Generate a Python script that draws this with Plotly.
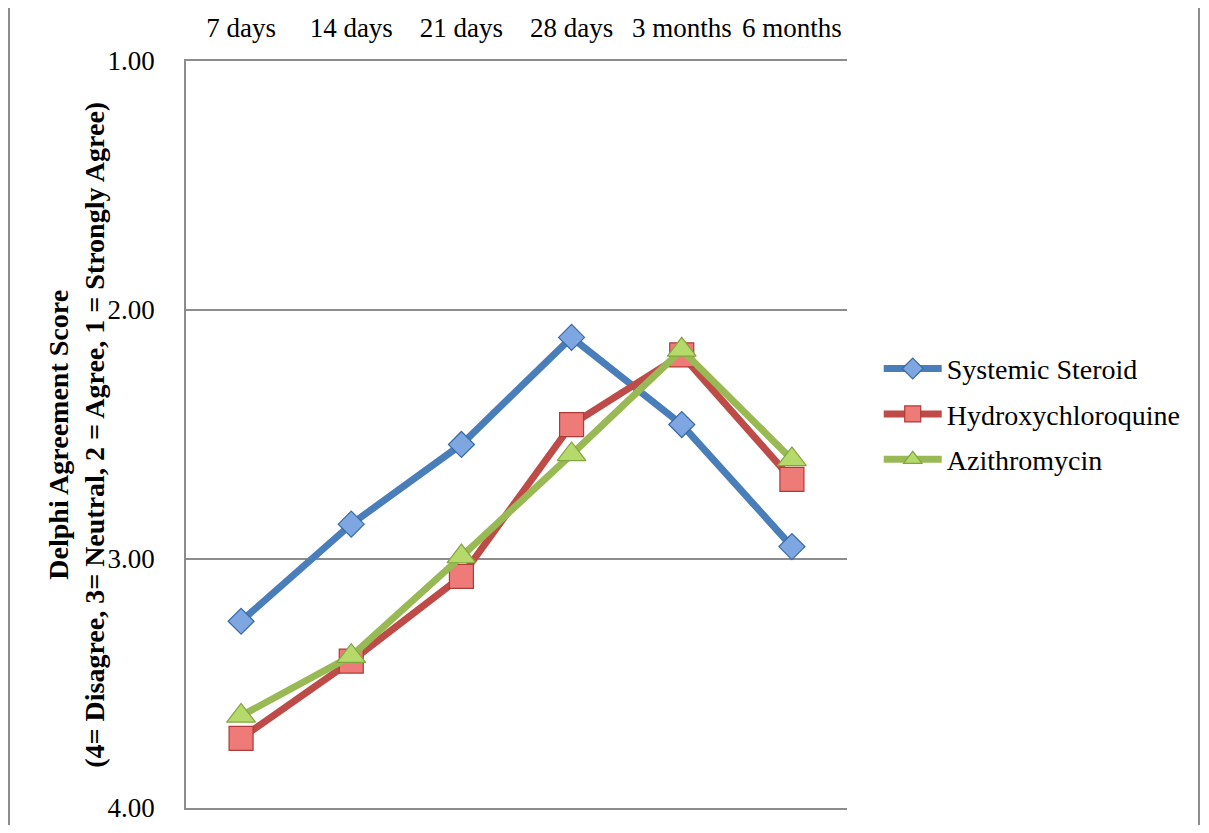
import plotly.graph_objects as go

categories = ["7 days", "14 days", "21 days", "28 days", "3 months", "6 months"]
steroid = [3.25, 2.86, 2.54, 2.11, 2.46, 2.95]
hcq = [3.72, 3.41, 3.07, 2.46, 2.18, 2.68]
azi = [3.63, 3.39, 2.99, 2.58, 2.16, 2.60]
y_ticks = [1, 2, 3, 4]
y_tick_labels = ["1.00", "2.00", "3.00", "4.00"]
y_title = "<b>Delphi Agreement Score<br>(4= Disagree, 3= Neutral, 2 = Agree, 1 = Strongly Agree)</b>"

FONT = "Liberation Serif"
GRID = "#8C8C8C"

series = [
    ("Systemic Steroid", steroid, "#4A7EBB", "#7EA6E0", "#3A6AA5", "diamond", 20),
    ("Hydroxychloroquine", hcq, "#BE4B48", "#EE7B78", "#B03A37", "square", 24),
    ("Azithromycin", azi, "#98B954", "#B5D96A", "#82A540", "triangle-up", 25),
]

fig = go.Figure()
for name, vals, lc, mfill, mline, sym, msize in series:
    fig.add_trace(go.Scatter(
        x=categories, y=vals, name=name, mode="lines+markers", legendgroup=name,
        line=dict(color=lc, width=7),
        marker=dict(symbol=sym, size=msize, color=mfill, line=dict(color=mline, width=1.2)),
    ))

# page has an 8px body margin; figure sized to fit the window without scrollbars
fig.update_layout(
    width=1193, height=817,
    margin=dict(l=178, r=354, t=53, b=17),
    paper_bgcolor="white", plot_bgcolor="white",
    font=dict(family=FONT, size=27, color="black"),
    showlegend=True,
    legend=dict(x=1.048, y=0.527, xanchor="left", yanchor="middle",
                font=dict(family=FONT, size=28, color="black"),
                traceorder="grouped", tracegroupgap=6, itemwidth=58,
                bgcolor="rgba(0,0,0,0)"),
    xaxis=dict(side="top", type="category", range=[-0.5, len(categories) - 0.5],
               showgrid=False, automargin=False,
               showline=True, mirror=True, linecolor=GRID, linewidth=1.5,
               ticks="", zeroline=False, ticklabelstandoff=11, tickfont=dict(size=27)),
    yaxis=dict(range=[4, 1], tickvals=y_ticks, ticktext=y_tick_labels, automargin=False,
               showgrid=True, gridcolor=GRID, gridwidth=1.5,
               showline=True, linecolor=GRID, linewidth=1.5,
               zeroline=False, ticks="", ticklabelstandoff=24,
               tickfont=dict(size=27)),
    annotations=[
        dict(text=y_title, xref="paper", yref="paper", x=-0.166, y=0.5,
             xanchor="center", yanchor="middle", textangle=-90, showarrow=False,
             font=dict(family=FONT, size=28, color="black")),
    ],
    shapes=[
        dict(type="line", xref="paper", yref="paper", x0=-0.2678, x1=-0.2678, y0=-0.1, y1=1.2,
             line=dict(color=GRID, width=2)),
        dict(type="line", xref="paper", yref="paper", x0=1.5325, x1=1.5325, y0=-0.1, y1=1.2,
             line=dict(color=GRID, width=2)),
    ],
)

fig.write_html("out.html")
